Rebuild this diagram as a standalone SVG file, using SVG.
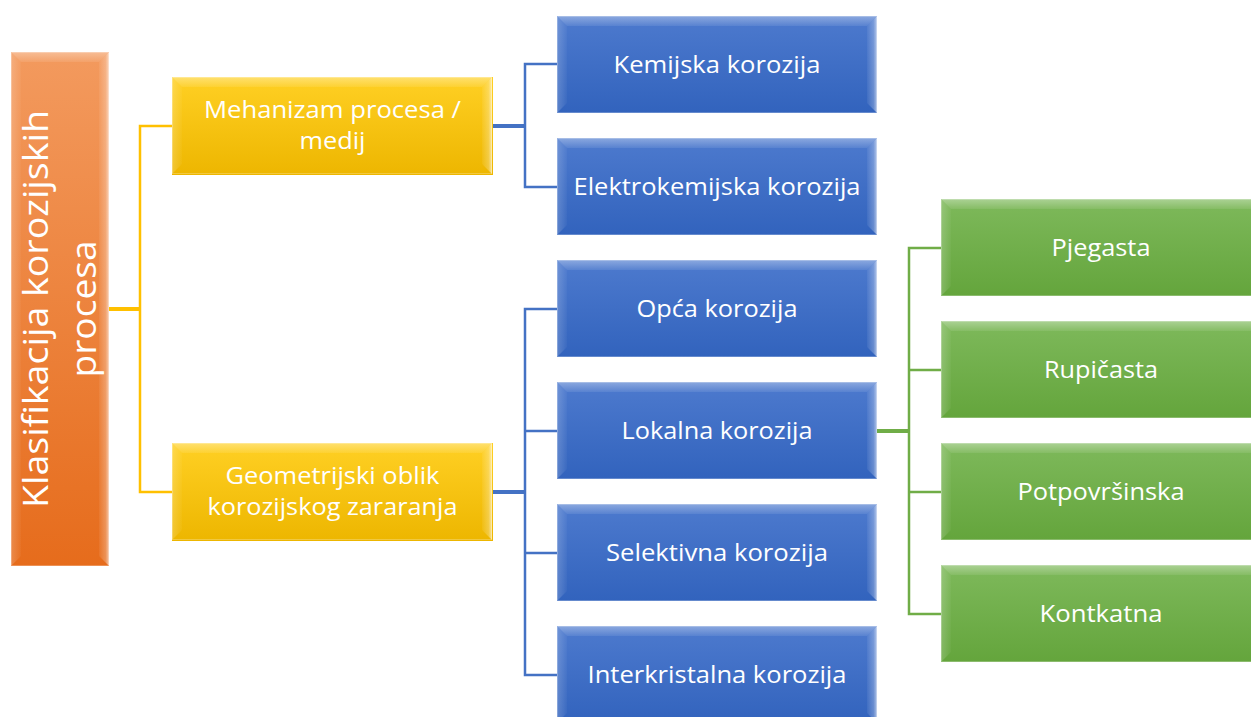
<svg xmlns="http://www.w3.org/2000/svg" xmlns:xlink="http://www.w3.org/1999/xlink" width="1251" height="717" viewBox="0 0 1251 717">
<style>
.t{font-family:"Open Sans","Noto Sans","Liberation Sans",sans-serif;fill:#fff;text-anchor:middle;font-size:24px}
.r{font-size:34px}
.cy{stroke:#FFC000;fill:none}
.cb{stroke:#4472C4;fill:none}
.cg{stroke:#70AD47;fill:none}
.trunk{stroke-width:4}
.br{stroke-width:2.5}
</style>
<defs>
<linearGradient id="gO" x1="0" y1="0" x2="0" y2="1"><stop offset="0" stop-color="#F39A5E"/><stop offset="1" stop-color="#E66C1C"/></linearGradient>
<linearGradient id="gY" x1="0" y1="0" x2="0" y2="1"><stop offset="0" stop-color="#FFD024"/><stop offset="1" stop-color="#EDB600"/></linearGradient>
<linearGradient id="gB" x1="0" y1="0" x2="0" y2="1"><stop offset="0" stop-color="#4D7ACE"/><stop offset="1" stop-color="#3263BD"/></linearGradient>
<linearGradient id="gG" x1="0" y1="0" x2="0" y2="1"><stop offset="0" stop-color="#7EB95B"/><stop offset="1" stop-color="#64A53C"/></linearGradient>
<linearGradient id="bt" x1="0" y1="0" x2="0" y2="1"><stop offset="0" stop-color="#fff" stop-opacity="0.35"/><stop offset="1" stop-color="#fff" stop-opacity="0.08"/></linearGradient>
<linearGradient id="bl" x1="0" y1="0" x2="1" y2="0"><stop offset="0" stop-color="#fff" stop-opacity="0.2"/><stop offset="1" stop-color="#fff" stop-opacity="0.03"/></linearGradient>
<linearGradient id="br" x1="1" y1="0" x2="0" y2="0"><stop offset="0" stop-color="#fff" stop-opacity="0.6"/><stop offset="0.35" stop-color="#fff" stop-opacity="0.25"/><stop offset="1" stop-color="#fff" stop-opacity="0.05"/></linearGradient>
<g id="bev">
<polygon points="0,0 320,0 310,10 10,10" fill="url(#bt)"/>
<polygon points="0,0 10,10 10,87 0,97" fill="url(#bl)"/>
<polygon points="320,0 320,97 310,87 310,10" fill="url(#br)"/>
<rect x="0.5" y="0.5" width="319" height="96" fill="none" stroke="#fff" stroke-opacity="0.25"/>
</g>
</defs>
<rect width="1251" height="717" fill="#fff"/>
<g id="connectors">
<path class="cy trunk" d="M109,309 H140"/>
<path class="cy br" d="M172,126 H140 V492 H172"/>
<path class="cb trunk" d="M493,126 H525"/>
<path class="cb br" d="M557,64 H525 V187 H557"/>
<path class="cb trunk" d="M493,492 H525"/>
<path class="cb br" d="M557,309 H525 V675 H557 M525,431 H557 M525,553 H557"/>
<path class="cg trunk" d="M877,431 H909"/>
<path class="cg br" d="M941,248 H909 V614 H941 M909,370 H941 M909,492 H941"/>
</g>
<g id="root">
<rect x="11" y="52" width="98" height="514" fill="url(#gO)"/>
<polygon points="11,52 109,52 99,62 21,62" fill="url(#bt)"/>
<polygon points="11,52 21,62 21,556 11,566" fill="url(#bl)"/>
<polygon points="109,52 109,566 99,556 99,62" fill="url(#br)"/>
<rect x="11.5" y="52.5" width="97" height="513" fill="none" stroke="#fff" stroke-opacity="0.25"/>
<text class="t r" transform="translate(60,309) rotate(-90)"><tspan x="0" y="-12" textLength="398" lengthAdjust="spacingAndGlyphs">Klasifikacija korozijskih</tspan><tspan x="0" y="36" textLength="137" lengthAdjust="spacingAndGlyphs">procesa</tspan></text>
</g>
<g id="n-mehanizam">
<rect x="172" y="77" width="321" height="98" fill="url(#gY)"/>
<use href="#bev" x="172" y="77"/>
<text class="t" x="332.5" y="118" textLength="257" lengthAdjust="spacingAndGlyphs">Mehanizam procesa /</text>
<text class="t" x="332.5" y="149" textLength="66" lengthAdjust="spacingAndGlyphs">medij</text>
</g>
<g id="n-geometrijski">
<rect x="172" y="443" width="321" height="98" fill="url(#gY)"/>
<use href="#bev" x="172" y="443"/>
<text class="t" x="332.5" y="484" textLength="214" lengthAdjust="spacingAndGlyphs">Geometrijski oblik</text>
<text class="t" x="332.5" y="515" textLength="250" lengthAdjust="spacingAndGlyphs">korozijskog zararanja</text>
</g>
<g id="n-kemijska">
<rect x="557" y="16" width="320" height="97" fill="url(#gB)"/>
<use href="#bev" x="557" y="16"/>
<text class="t" x="717" y="73" textLength="207" lengthAdjust="spacingAndGlyphs">Kemijska korozija</text>
</g>
<g id="n-elektrokemijska">
<rect x="557" y="138" width="320" height="97" fill="url(#gB)"/>
<use href="#bev" x="557" y="138"/>
<text class="t" x="717" y="195" textLength="287" lengthAdjust="spacingAndGlyphs">Elektrokemijska korozija</text>
</g>
<g id="n-opca">
<rect x="557" y="260" width="320" height="97" fill="url(#gB)"/>
<use href="#bev" x="557" y="260"/>
<text class="t" x="717" y="317" textLength="161" lengthAdjust="spacingAndGlyphs">Opća korozija</text>
</g>
<g id="n-lokalna">
<rect x="557" y="382" width="320" height="97" fill="url(#gB)"/>
<use href="#bev" x="557" y="382"/>
<text class="t" x="717" y="439" textLength="191" lengthAdjust="spacingAndGlyphs">Lokalna korozija</text>
</g>
<g id="n-selektivna">
<rect x="557" y="504" width="320" height="97" fill="url(#gB)"/>
<use href="#bev" x="557" y="504"/>
<text class="t" x="717" y="561" textLength="222" lengthAdjust="spacingAndGlyphs">Selektivna korozija</text>
</g>
<g id="n-interkristalna">
<rect x="557" y="626" width="320" height="97" fill="url(#gB)"/>
<use href="#bev" x="557" y="626"/>
<text class="t" x="717" y="683" textLength="259" lengthAdjust="spacingAndGlyphs">Interkristalna korozija</text>
</g>
<g id="n-pjegasta">
<rect x="941" y="199" width="320" height="97" fill="url(#gG)"/>
<use href="#bev" x="941" y="199"/>
<text class="t" x="1101" y="256" textLength="99" lengthAdjust="spacingAndGlyphs">Pjegasta</text>
</g>
<g id="n-rupicasta">
<rect x="941" y="321" width="320" height="97" fill="url(#gG)"/>
<use href="#bev" x="941" y="321"/>
<text class="t" x="1101" y="378" textLength="114" lengthAdjust="spacingAndGlyphs">Rupičasta</text>
</g>
<g id="n-potpovrsinska">
<rect x="941" y="443" width="320" height="97" fill="url(#gG)"/>
<use href="#bev" x="941" y="443"/>
<text class="t" x="1101" y="500" textLength="167" lengthAdjust="spacingAndGlyphs">Potpovršinska</text>
</g>
<g id="n-kontkatna">
<rect x="941" y="565" width="320" height="97" fill="url(#gG)"/>
<use href="#bev" x="941" y="565"/>
<text class="t" x="1101" y="622" textLength="123" lengthAdjust="spacingAndGlyphs">Kontkatna</text>
</g>
</svg>
